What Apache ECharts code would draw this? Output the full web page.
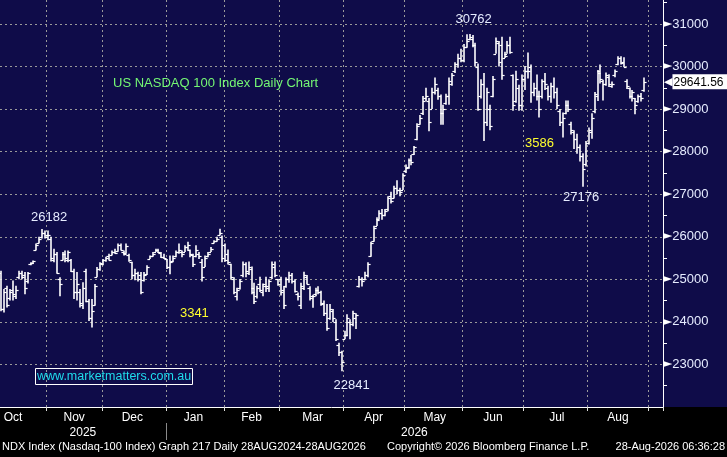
<!DOCTYPE html>
<html>
<head>
<meta charset="utf-8">
<script src="https://cdn.jsdelivr.net/npm/echarts@6/dist/echarts.min.js"></script>
<style>
  html, body { margin: 0; padding: 0; background: #000; }
  #chart-container { width: 727px; height: 457px; }
</style>
</head>
<body>
<div id="chart-container"></div>
<script>
// daily OHLC, 10 Oct 2025 .. 28 Aug 2026
var opens = [
  25150,24300,24800,24550,24750,24600,25050,25150,25100,24950,25350,25380,25700,25850,26000,26100,
  26050,25950,25450,25600,25000,25450,25600,25450,25450,25200,24700,24700,24400,25200,24500,24100,24400,25050,25250,
  25350,25450,25550,25560,25650,25660,25800,25650,25620,25580,25400,25100,25150,25100,24980,25120,25480,25550,25650,25700,25620,25520,
  25480,25300,25420,25540,25650,25650,25650,25750,25680,25580,25550,25600,25400,25300,25550,25650,25850,25900,26050,26000,
  25800,25600,25350,25000,24600,24800,25100,25350,25150,25250,24800,24600,24900,24700,24850,24800,25050,25300,25000,
  25000,24750,24850,25000,25100,24950,24650,24400,24800,25050,24800,24600,24650,24750,24700,24450,24200,24100,24250,24000,23450,23300,
  23600,23700,24000,23950,24100,24850,25000,25000,25100,25550,25900,26250,26420,26550,26500,26650,26950,26900,27150,27100,27100,
  27550,27650,27800,27950,28300,28650,28900,29250,29200,29000,29400,29450,29300,28900,29150,29300,29600,29900,30050,30200,
  30150,30450,30650,30650,30500,30000,29300,29600,28700,29000,29300,30300,30550,30500,30200,30300,30500,29800,29200,29500,29100,
  29700,29900,30000,29400,29500,29300,29300,29650,29500,29300,29550,29400,28950,28700,28900,29100,28650,28450,28300,28100,27900,27700,
  28200,28450,28950,29300,29900,29650,29600,29750,29550,29800,30050,30200,30100,29650,29500,29300,29250,29200,29300,29450
];
var highs = [
  25200,24770,24850,24770,24970,24850,25200,25200,25170,25170,25400,25440,25840,26000,26182,26150,
  26150,26000,25720,25640,25050,25640,25680,25680,25480,25250,25170,24770,24930,25250,24540,24540,24890,25290,25400,
  25480,25530,25600,25680,25720,25840,25840,25680,25840,25600,25410,25250,25180,25170,25170,25330,25560,25640,25720,25720,25640,25600,
  25480,25560,25560,25680,25840,25680,25800,25880,25700,25600,25800,25640,25480,25560,25640,25760,25920,26000,26190,26030,
  25840,25700,25364,25050,24800,25010,25420,25400,25420,25300,24920,24850,25060,24900,25060,25000,25420,25420,25000,
  25060,24840,25050,25180,25150,25000,24690,24920,25180,25100,24840,24640,24800,24840,24730,24500,24420,24420,24300,24060,23510,23320,
  23790,24180,24060,24260,24200,25080,25050,25180,25400,25880,26260,26460,26620,26650,26650,26950,27060,27200,27330,27150,27490,
  27700,27840,27920,28130,28670,28860,29310,29500,29260,29500,29740,29500,29340,29100,29360,29740,29850,30100,30300,30420,
  30530,30760,30762,30740,30560,30070,29700,29850,29500,29100,29780,30680,30600,30700,30350,30600,30700,29810,29900,29570,29810,
  30010,30330,30050,29620,29810,29430,29700,29850,29550,29620,29740,29500,29000,28920,29200,29200,28700,28500,28420,28170,27960,28250,
  28570,28900,29400,29920,30050,29690,29860,29820,29650,29930,30240,30240,30220,29700,29510,29450,29260,29340,29380,29740
];
var lows = [
  24250,24220,24340,24500,24500,24540,25000,25000,24650,24900,25330,25360,25680,25840,25960,25960,
  25920,25420,25400,25130,24600,25440,25400,25400,25170,24540,24500,24340,24300,24460,24020,23870,24380,25050,25200,
  25330,25410,25440,25560,25600,25650,25680,25560,25600,25410,25000,24980,24950,24650,24950,25100,25480,25530,25640,25620,25500,25480,
  25240,25120,25400,25520,25600,25520,25640,25680,25520,25290,25520,25480,24950,25290,25520,25640,25840,25880,26030,25400,
  25410,25350,25010,24650,24500,24760,25050,25050,25100,24650,24420,24550,24700,24600,24700,24700,25010,25050,24850,
  24620,24300,24800,24920,24900,24690,24500,24300,24750,24880,24500,24330,24600,24650,24380,24140,23790,24050,24000,23550,23200,22841,
  23590,23660,23590,23900,23830,24810,24830,24980,25050,25530,25880,26250,26400,26400,26480,26600,26780,26900,27000,26950,27100,
  27500,27600,27680,27920,28270,28630,28860,29190,28480,29000,29340,29220,28630,28630,29100,29100,29550,29850,29970,30100,
  30100,30440,30620,30450,30000,28960,29250,28250,28600,28500,29280,30300,30000,29690,30200,30300,30300,28960,29150,28960,28960,
  29450,29720,29150,29300,29200,28800,29250,29450,29200,29150,29250,29000,28600,28330,28880,28930,28400,28060,27950,27770,27176,27650,
  28170,28300,28900,29190,29600,29200,29550,29520,29500,29750,30030,30050,29980,29470,29250,29180,28880,29150,29180,29410
];
var closes = [
  24300,24700,24400,24700,24650,24750,25150,25050,24800,25150,25380,25420,25800,25950,26100,26000,
  26050,25500,25600,25150,24900,25600,25500,25650,25200,24700,24900,24450,24800,24500,24100,24250,24850,25250,25380,
  25450,25500,25450,25650,25620,25800,25700,25600,25780,25450,25100,25150,25000,24700,25100,25300,25550,25600,25700,25650,25520,25500,
  25300,25400,25500,25650,25700,25600,25750,25800,25600,25350,25700,25550,25050,25500,25600,25720,25900,25950,26100,25500,
  25450,25400,25050,24700,24750,24950,25350,25200,25300,24700,24500,24800,24750,24880,24850,24950,25350,25100,24900,
  24700,24400,25000,25100,24950,24720,24600,24850,25100,24900,24550,24600,24750,24700,24420,24200,23850,24300,24100,23600,23300,23050,
  23700,24100,23950,24200,24150,25000,24950,25100,25350,25850,26200,26400,26550,26500,26600,26900,26850,27150,27100,27050,27450,
  27620,27800,27750,28100,28600,28800,29200,29300,28700,29400,29600,29300,28900,29000,29300,29650,29800,30050,30200,30150,
  30450,30600,30700,30500,30100,29000,29600,28700,29400,28600,29700,30600,30100,29800,30250,30500,30350,29100,29700,29100,29700,
  29900,29900,29400,29500,29300,29000,29650,29600,29300,29550,29400,29100,28700,28800,29100,29000,28500,28300,28100,27900,27600,28200,
  28500,28800,29350,29850,29700,29600,29800,29600,29600,29900,30200,30080,30000,29550,29300,29400,29100,29300,29250,29641.56
];

var holidays = ['2025-11-27','2025-12-25','2026-01-01','2026-01-19','2026-02-16','2026-04-03',
                '2026-05-25','2026-06-19','2026-07-03','2026-09-07'];
var monthNames = ['Jan','Feb','Mar','Apr','May','Jun','Jul','Aug','Sep','Oct','Nov','Dec'];
var monthLabelDates = ['2025-10-16','2025-11-14','2025-12-15','2026-01-15','2026-02-13','2026-03-17',
                       '2026-04-16','2026-05-15','2026-06-15','2026-07-17','2026-08-17'];
var yearLabelDates = ['2025-11-19','2026-05-06'];
var yearBreakDate = '2026-01-02';

// text notes: [text, date, value, colour, offset]
var notes = [
  ['26182', '2025-10-30', 26182, '#e6ecff', [7, -12]],
  ['30762', '2026-06-03', 30762, '#e6ecff', [4, -15]],
  ['27176', '2026-07-30', 27176, '#e6ecff', [-2, 11]],
  ['22841', '2026-03-31', 22841, '#e6ecff', [10, 14]],
  ['3341', '2026-01-15', 24200, '#ffff2e', [1, 0]],
  ['3586', '2026-07-09', 28200, '#ffff2e', [0, 0]]
];

// trading days on the axis (runs a week past the last bar)
var dates = [];
var day = new Date(Date.UTC(2025, 9, 10));
while (day.getTime() <= Date.UTC(2026, 8, 8)) {
  var s = day.toISOString().slice(0, 10);
  var dow = day.getUTCDay();
  if (dow > 0 && dow < 6 && holidays.indexOf(s) < 0) dates.push(s);
  day.setUTCDate(day.getUTCDate() + 1);
}

function isMonthStart(i) {
  return i > 0 && dates[i].slice(5, 7) !== dates[i - 1].slice(5, 7);
}

var ohlc = [];
for (var i = 0; i < closes.length; i++) {
  ohlc.push([i, opens[i], highs[i], lows[i], closes[i]]);
}

var FONT = "'Liberation Sans', Arial, sans-serif";
var NAVY = '#0f0c49';

function renderBar(params, api) {
  var idx = api.value(0);
  var x = Math.round(api.coord([idx, 0])[0]);
  var yo = Math.round(api.coord([idx, api.value(1)])[1]) + 0.5;
  var yh = api.coord([idx, api.value(2)])[1];
  var yl = api.coord([idx, api.value(3)])[1];
  var yc = Math.round(api.coord([idx, api.value(4)])[1]) + 0.5;
  var st = { stroke: '#ffffff', lineWidth: 1.6 };
  var tk = { stroke: '#ffffff', lineWidth: 1.2 };
  return {
    type: 'group',
    children: [
      { type: 'line', shape: { x1: x, y1: yh, x2: x, y2: yl }, style: st },
      { type: 'line', shape: { x1: x - 2.6, y1: yo, x2: x, y2: yo }, style: tk },
      { type: 'line', shape: { x1: x, y1: yc, x2: x + 2.6, y2: yc }, style: tk }
    ]
  };
}

var dom = document.getElementById('chart-container');
var myChart = echarts.init(dom, null, { renderer: 'canvas' });

var option = {
  animation: false,
  backgroundColor: '#000000',
  textStyle: { fontFamily: FONT },
  title: [
    { text: 'US NASDAQ 100 Index Daily Chart', left: 113, top: 77, padding: 0,
      textStyle: { color: '#74f774', fontSize: 13, fontWeight: 'normal', fontFamily: FONT } },
    { text: 'www.marketmatters.com.au', left: 35, top: 368, padding: [2, 2, 2, 2],
      borderColor: '#ffffff', borderWidth: 1,
      textStyle: { color: '#1fdcec', fontSize: 12.5, fontWeight: 'normal', fontFamily: FONT } },
    { text: 'NDX Index (Nasdaq-100 Index) Graph 217 Daily 28AUG2024-28AUG2026', left: 2, top: 441, padding: 0,
      textStyle: { color: '#ffffff', fontSize: 11, fontWeight: 'normal', fontFamily: FONT } },
    { text: 'Copyright\u00a9 2026 Bloomberg Finance L.P.', left: 387, top: 441, padding: 0,
      textStyle: { color: '#ffffff', fontSize: 11, fontWeight: 'normal', fontFamily: FONT } },
    { text: '28-Aug-2026 06:36:28', right: 2, top: 441, padding: 0,
      textStyle: { color: '#ffffff', fontSize: 11, fontWeight: 'normal', fontFamily: FONT } }
  ],
  grid: [
    { left: 0, right: 64, top: 0, bottom: 50, containLabel: false,
      show: true, backgroundColor: NAVY, borderWidth: 0 },
    // the price-scale strip right of the plot keeps the navy fill
    { left: 663, right: 0, top: 0, bottom: 50, containLabel: false,
      show: true, backgroundColor: NAVY, borderWidth: 0 }
  ],
  xAxis: [
    {
      type: 'category',
      gridIndex: 0,
      data: dates,
      boundaryGap: true,
      axisLine: { show: true, lineStyle: { color: '#ffffff', width: 1 } },
      axisTick: { show: true, interval: function (i) { return isMonthStart(i); }, length: 4,
                  lineStyle: { color: '#dddddd' } },
      splitLine: { show: true, interval: function (i) { return isMonthStart(i); },
                   lineStyle: { color: '#9a9a9a', type: [2, 3], width: 1 } },
      axisLabel: {
        interval: function (i, v) { return monthLabelDates.indexOf(v) >= 0; },
        formatter: function (v) { return monthNames[+v.slice(5, 7) - 1]; },
        color: '#ffffff', fontSize: 12, margin: 5, fontFamily: FONT
      }
    },
    {
      type: 'category',
      gridIndex: 0,
      data: dates,
      position: 'bottom',
      offset: 16,
      boundaryGap: true,
      axisLine: { show: false },
      axisTick: { show: false },
      splitLine: { show: false },
      axisLabel: {
        interval: function (i, v) { return yearLabelDates.indexOf(v) >= 0; },
        formatter: function (v) { return v.slice(0, 4); },
        color: '#ffffff', fontSize: 12, margin: 4, fontFamily: FONT
      }
    },
    { type: 'value', gridIndex: 1, show: false }
  ],
  yAxis: [
    {
      type: 'value',
      gridIndex: 0,
      position: 'right',
      min: 22000,
      max: 31563,
      interval: 1000,
      axisLine: { show: true, lineStyle: { color: '#ffffff', width: 1 } },
      axisTick: { show: false },
      minorTick: { show: true, splitNumber: 2, length: 4, lineStyle: { color: '#ffffff' } },
      splitLine: { show: true, showMinLine: false, showMaxLine: false,
                   lineStyle: { color: '#9a9a9a', type: [2, 3], width: 1 } },
      axisLabel: {
        showMinLabel: false,
        showMaxLabel: false,
        margin: 0,
        formatter: function (v) { return '{t|\u25ba}{v|' + v + '}'; },
        rich: {
          t: { color: '#ffffff', fontSize: 12, fontFamily: 'DejaVu Sans', padding: [0, 0, 1, 0] },
          v: { color: '#e6ecff', fontSize: 13, fontFamily: FONT }
        }
      }
    },
    { type: 'value', gridIndex: 1, show: false }
  ],
  series: [
    {
      name: 'NDX',
      type: 'custom',
      renderItem: renderBar,
      data: ohlc,
      encode: { x: 0, y: [1, 2, 3, 4] },
      clip: true,
      silent: true
    },
    {
      name: 'notes',
      type: 'line',
      data: closes,
      showSymbol: false,
      symbol: 'none',
      silent: true,
      lineStyle: { color: 'rgba(0,0,0,0)', width: 0 },
      markPoint: {
        symbol: 'circle',
        symbolSize: 1,
        itemStyle: { color: 'rgba(0,0,0,0)' },
        data: notes.map(function (n) {
          return {
            name: n[0], coord: [n[1], n[2]],
            label: { show: true, position: 'inside', formatter: '{b}', offset: n[4],
                     color: n[3], fontSize: 13, fontFamily: FONT }
          };
        })
      },
      markLine: {
        symbol: 'none',
        silent: true,
        lineStyle: { color: 'rgba(0,0,0,0)', width: 0, type: 'solid' },
        data: [{ yAxis: closes[closes.length - 1] }],
        label: {
          show: true,
          position: 'end',
          distance: 1,
          formatter: function (p) { return '{a|\u25c0}{b|' + p.value.toFixed(2) + '}'; },
          rich: {
            a: { color: '#ffffff', fontSize: 11, fontFamily: 'DejaVu Sans' },
            b: { color: '#000000', backgroundColor: '#ffffff', fontSize: 12, padding: [2, 6, 1, 1], fontFamily: FONT }
          }
        }
      }
    }
  ]
};

myChart.setOption(option);

// thin separator between the 2025 and 2026 year labels, at the January boundary
var halfBand = (myChart.convertToPixel({ xAxisIndex: 0 }, dates[1]) -
                myChart.convertToPixel({ xAxisIndex: 0 }, dates[0])) / 2;
var xBreak = Math.round(myChart.convertToPixel({ xAxisIndex: 0 }, yearBreakDate) - halfBand) + 0.5;
myChart.setOption({
  graphic: [{ type: 'line', silent: true, z: 10,
              shape: { x1: xBreak, y1: 423, x2: xBreak, y2: 440 },
              style: { stroke: '#8a8a8a', lineWidth: 1 } }]
});

window.addEventListener('resize', myChart.resize);
</script>
</body>
</html>
